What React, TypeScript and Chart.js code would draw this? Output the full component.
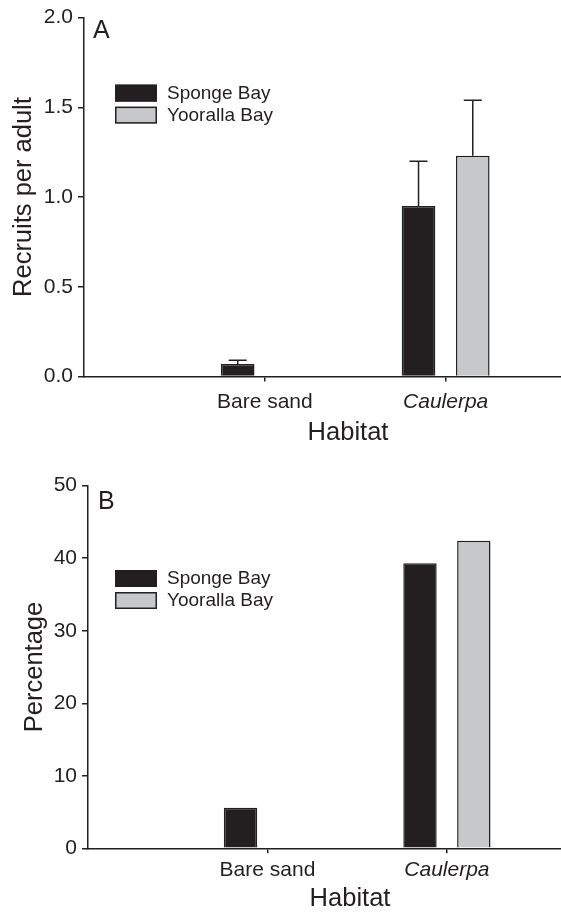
import React, { useEffect, useRef } from "react";
import { Chart, registerables } from "chart.js";

Chart.register(...registerables);

// ---- data ----
const CATEGORIES = ["Bare sand", "Caulerpa"];
const ITALIC_CATEGORIES = ["Caulerpa"];
const SERIES_NAMES = ["Sponge Bay", "Yooralla Bay"];

const RECRUITS_SPONGE = [0.07, 0.95];
const RECRUITS_SPONGE_SE = [0.02, 0.25];
const RECRUITS_YOORALLA = [0, 1.23];
const RECRUITS_YOORALLA_SE = [0, 0.31];

const PERCENT_SPONGE = [5.6, 39.3];
const PERCENT_YOORALLA = [0, 42.4];

const RECRUIT_TICKS = [0, 0.5, 1.0, 1.5, 2.0];
const PERCENT_TICKS = [0, 10, 20, 30, 40, 50];

const INK = "#231f20";
const GREY = "#c7c8ca";
const FONT = "'Liberation Sans', Arial, Helvetica, sans-serif";

type PanelCfg = {
  letter: string;
  yTitle: string;
  values: number[][];
  errors: (number[] | null)[];
  yTicks: number[];
  decimals: number;
  yAxisWidth: number;
  padTop: number;
  xAxisHeight: number;
  tickPad: number;
  xTitlePad: number;
  yTitlePad: number;
  legendDx: number;
  legendDy: number;
  letterDx: number;
  letterDy: number;
};

const legendPlugin = {
  id: "panelExtras",
  afterDatasetsDraw(chart: any, _args: any, opts: any) {
    const ctx = chart.ctx;
    const ca = chart.chartArea;
    const yScale = chart.scales.y;
    // error bars
    chart.data.datasets.forEach((ds: any, i: number) => {
      const errs = ds.errors;
      if (!errs) return;
      const meta = chart.getDatasetMeta(i);
      meta.data.forEach((bar: any, j: number) => {
        const e = errs[j];
        const v = ds.data[j];
        if (!e || v == null) return;
        const yTop = yScale.getPixelForValue(v + e);
        ctx.save();
        ctx.strokeStyle = INK;
        ctx.lineWidth = 1.5;
        ctx.beginPath();
        ctx.moveTo(bar.x, bar.y);
        ctx.lineTo(bar.x, yTop);
        ctx.moveTo(bar.x - opts.capHalf, yTop);
        ctx.lineTo(bar.x + opts.capHalf, yTop);
        ctx.stroke();
        ctx.restore();
      });
    });
    // legend
    ctx.save();
    chart.data.datasets.forEach((ds: any, i: number) => {
      const x = ca.left + opts.legendDx;
      const y = ca.top + opts.legendDy + i * 22;
      ctx.fillStyle = ds.backgroundColor;
      ctx.fillRect(x, y, 42, 17);
      ctx.strokeStyle = INK;
      ctx.lineWidth = 1.5;
      ctx.strokeRect(x + 0.75, y + 0.75, 40.5, 15.5);
      ctx.fillStyle = INK;
      ctx.font = `19px ${FONT}`;
      ctx.textBaseline = "middle";
      ctx.textAlign = "left";
      ctx.fillText(ds.label, x + 52, y + 9);
    });
    // panel letter
    ctx.font = `25px ${FONT}`;
    ctx.textBaseline = "middle";
    ctx.fillText(opts.letter, ca.left + opts.letterDx, ca.top + opts.letterDy);
    ctx.restore();
  },
};

function Panel({ cfg, height }: { cfg: PanelCfg; height: number }) {
  const ref = useRef<HTMLCanvasElement | null>(null);
  useEffect(() => {
    if (!ref.current) return;
    const colors = [INK, GREY];
    const chart = new Chart(ref.current, {
      type: "bar",
      data: {
        labels: CATEGORIES.map((_, i) => i + 1),
        datasets: SERIES_NAMES.map((name, k) => ({
          label: name,
          data: cfg.values[k],
          errors: cfg.errors[k],
          backgroundColor: colors[k],
          borderColor: INK,
          borderWidth: 1.5,
          categoryPercentage: 0.6,
          barPercentage: 0.62,
        })) as any,
      },
      options: {
        animation: false,
        responsive: false,
        layout: { padding: { top: cfg.padTop, left: 0, right: 0, bottom: 0 } },
        plugins: {
          legend: { display: false },
          tooltip: { enabled: false },
          panelExtras: {
            legendDx: cfg.legendDx,
            legendDy: cfg.legendDy,
            letter: cfg.letter,
            letterDx: cfg.letterDx,
            letterDy: cfg.letterDy,
            capHalf: 9,
          },
        } as any,
        scales: {
          x: {
            type: "linear",
            min: 0,
            max: 2.92,
            offset: false,
            afterBuildTicks: (scale: any) => {
              scale.ticks = CATEGORIES.map((_, i) => ({ value: i + 1 }));
            },
            afterFit: (scale: any) => {
              scale.height = cfg.xAxisHeight;
            },
            grid: {
              display: true,
              drawOnChartArea: false,
              drawTicks: true,
              tickLength: 5,
              color: INK,
              lineWidth: 1.5,
              offset: false,
            },
            border: { display: true, color: INK, width: 1.5 },
            ticks: {
              color: INK,
              padding: cfg.tickPad,
              maxRotation: 0,
              autoSkip: false,
              font: (c: any) => ({
                family: FONT,
                size: 21,
                style:
                  c.tick && ITALIC_CATEGORIES.includes(CATEGORIES[c.tick.value - 1])
                    ? "italic"
                    : "normal",
              }),
              callback: (v: any) => CATEGORIES[Number(v) - 1] ?? "",
            },
            title: {
              display: true,
              text: "Habitat",
              color: INK,
              font: { family: FONT, size: 25.5, lineHeight: 1 },
              padding: { top: 0, bottom: cfg.xTitlePad },
            },
          } as any,
          y: {
            type: "linear",
            min: cfg.yTicks[0],
            max: cfg.yTicks[cfg.yTicks.length - 1],
            afterBuildTicks: (scale: any) => {
              scale.ticks = cfg.yTicks.map((v) => ({ value: v }));
            },
            afterFit: (scale: any) => {
              scale.width = cfg.yAxisWidth;
            },
            grid: {
              display: true,
              drawOnChartArea: false,
              drawTicks: true,
              tickLength: 6,
              color: INK,
              lineWidth: 1.5,
            },
            border: { display: true, color: INK, width: 1.5 },
            ticks: {
              color: INK,
              padding: 5,
              font: { family: FONT, size: 21 },
              callback: (v: any) => Number(v).toFixed(cfg.decimals),
            },
            title: {
              display: true,
              text: cfg.yTitle,
              color: INK,
              font: { family: FONT, size: 25.5, lineHeight: 1 },
              padding: { top: cfg.yTitlePad, bottom: 0 },
            },
          } as any,
        },
      },
      plugins: [legendPlugin],
    });
    return () => chart.destroy();
  }, [cfg]);
  return <canvas ref={ref} width={612} height={height} style={{ display: "block" }} />;
}

const PANEL_A: PanelCfg = {
  letter: "A",
  yTitle: "Recruits per adult",
  values: [RECRUITS_SPONGE, RECRUITS_YOORALLA],
  errors: [RECRUITS_SPONGE_SE, RECRUITS_YOORALLA_SE],
  yTicks: RECRUIT_TICKS,
  decimals: 1,
  yAxisWidth: 84,
  padTop: 15,
  xAxisHeight: 83.5,
  tickPad: 8.5,
  xTitlePad: 14.5,
  yTitlePad: 11.5,
  legendDx: 31,
  legendDy: 67,
  letterDx: 9,
  letterDy: 14,
};

const PANEL_B: PanelCfg = {
  letter: "B",
  yTitle: "Percentage",
  values: [PERCENT_SPONGE, PERCENT_YOORALLA],
  errors: [null, null],
  yTicks: PERCENT_TICKS,
  decimals: 0,
  yAxisWidth: 88,
  padTop: 25.7,
  xAxisHeight: 63.7,
  tickPad: 4.5,
  xTitlePad: 0,
  yTitlePad: 22.5,
  legendDx: 27,
  legendDy: 84.3,
  letterDx: 10,
  letterDy: 16,
};

export default function App() {
  return (
    <div
      style={{
        position: "absolute",
        left: 0,
        top: 0,
        width: 561,
        height: 912,
        overflow: "hidden",
        background: "#fff",
      }}
    >
      <Panel cfg={PANEL_A} height={460} />
      <Panel cfg={PANEL_B} height={452} />
    </div>
  );
}
